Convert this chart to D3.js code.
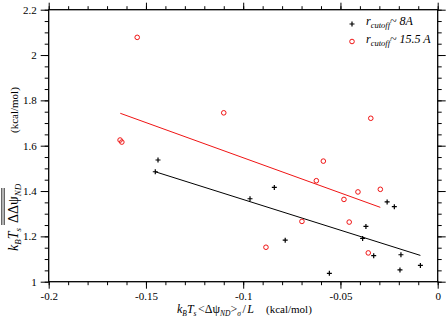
<!DOCTYPE html>
<html>
<head>
<meta charset="utf-8">
<script src="https://cdn.jsdelivr.net/npm/d3@7"></script>
<style>
body { margin: 0; background: #fff; }
svg { display: block; font-family: "Liberation Serif", "Times New Roman", serif; }
</style>
</head>
<body>
<svg width="447" height="318"></svg>
<script>
// r_cutoff ~ 8A  (black crosses)
var blackX = [-0.1452, -0.1438, -0.0965, -0.084, -0.0784, -0.0557, -0.0369, -0.0386, -0.026, -0.0223, -0.0329, -0.0189, -0.0194, -0.0089];
var blackY = [1.485, 1.537, 1.366, 1.416, 1.183, 1.037, 1.244, 1.191, 1.352, 1.331, 1.115, 1.119, 1.052, 1.072];
// r_cutoff ~ 15.5 A  (red circles)
var redX = [-0.1633, -0.1624, -0.1545, -0.110, -0.0344, -0.0588, -0.0624, -0.041, -0.0295, -0.0482, -0.0698, -0.0455, -0.0883, -0.0357];
var redY = [1.625, 1.616, 2.078, 1.745, 1.721, 1.532, 1.4455, 1.396, 1.4076, 1.363, 1.266, 1.263, 1.152, 1.127];
// fit lines, end points
var fitBlackX = [-0.1452, -0.0089], fitBlackY = [1.485, 1.116];
var fitRedX = [-0.1632, -0.0295], fitRedY = [1.743, 1.328];
// ticks
var xMajor = [-0.2, -0.15, -0.1, -0.05, 0];
var xLabels = ["-0.2", "-0.15", "-0.1", "-0.05", "0"];
var yMajor = [1, 1.2, 1.4, 1.6, 1.8, 2, 2.2];
var yLabels = ["1", "1.2", "1.4", "1.6", "1.8", "2", "2.2"];

var padL = 48.7, padR = 437.7, padT = 9.7, padB = 281.7;
var svg = d3.select("svg");
var x = d3.scaleLinear().domain([-0.2, 0]).range([padL, padR]);
var y = d3.scaleLinear().domain([1, 2.2]).range([padB, padT]);

var xMinor = d3.range(-20, 1).map(function(i) { return i / 100; });
var yMinor = d3.range(20, 45, 1).map(function(i) { return i * 0.05; });

function styleAxis(g) {
  g.select(".domain").remove();
  g.attr("font-family", null);
  g.selectAll("line").attr("stroke", "#000").attr("stroke-width", 1);
  g.selectAll("text").attr("font-size", 11).attr("fill", "#000");
}

// minor ticks, all sides
svg.append("g").attr("transform", "translate(0," + padB + ")")
  .call(d3.axisBottom(x).tickValues(xMinor).tickSize(3.5).tickFormat("")).call(styleAxis);
svg.append("g").attr("transform", "translate(0," + padT + ")")
  .call(d3.axisTop(x).tickValues(xMinor).tickSize(3.5).tickFormat("")).call(styleAxis);
svg.append("g").attr("transform", "translate(" + padL + ",0)")
  .call(d3.axisLeft(y).tickValues(yMinor).tickSize(4).tickFormat("")).call(styleAxis);
svg.append("g").attr("transform", "translate(" + padR + ",0)")
  .call(d3.axisRight(y).tickValues(yMinor).tickSize(4).tickFormat("")).call(styleAxis);

// major ticks
svg.append("g").attr("transform", "translate(0," + padB + ")")
  .call(d3.axisBottom(x).tickValues(xMajor).tickSize(7).tickPadding(4)
    .tickFormat(function(d, i) { return xLabels[i]; })).call(styleAxis);
svg.append("g").attr("transform", "translate(0," + padT + ")")
  .call(d3.axisTop(x).tickValues(xMajor).tickSize(7).tickFormat("")).call(styleAxis);
svg.append("g").attr("transform", "translate(" + padL + ",0)")
  .call(d3.axisLeft(y).tickValues(yMajor).tickSize(8).tickPadding(4)
    .tickFormat(function(d, i) { return yLabels[i]; })).call(styleAxis);
svg.append("g").attr("transform", "translate(" + padR + ",0)")
  .call(d3.axisRight(y).tickValues(yMajor).tickSize(8).tickFormat("")).call(styleAxis);

// frame
svg.append("rect").attr("x", padL).attr("y", padT)
  .attr("width", padR - padL).attr("height", padB - padT)
  .attr("fill", "none").attr("stroke", "#000").attr("stroke-width", 1.3);

// fit lines
svg.append("line")
  .attr("x1", x(fitRedX[0])).attr("y1", y(fitRedY[0]))
  .attr("x2", x(fitRedX[1])).attr("y2", y(fitRedY[1]))
  .attr("stroke", "#f01414").attr("stroke-width", 1);
svg.append("line")
  .attr("x1", x(fitBlackX[0])).attr("y1", y(fitBlackY[0]))
  .attr("x2", x(fitBlackX[1])).attr("y2", y(fitBlackY[1]))
  .attr("stroke", "#000").attr("stroke-width", 1);

// red circles
svg.append("g").selectAll("circle").data(redX).enter().append("circle")
  .attr("cx", function(d) { return x(d); })
  .attr("cy", function(d, i) { return y(redY[i]); })
  .attr("r", 2.3).attr("fill", "none").attr("stroke", "#f01414").attr("stroke-width", 1);

// black crosses
var plusPath = "M-2.5,0H2.5M0,-2.5V2.5";
svg.append("g").selectAll("path").data(blackX).enter().append("path")
  .attr("d", plusPath)
  .attr("transform", function(d, i) { return "translate(" + x(d) + "," + y(blackY[i]) + ")"; })
  .attr("stroke", "#000").attr("stroke-width", 1.2).attr("fill", "none");

// legend
svg.append("path").attr("d", plusPath)
  .attr("transform", "translate(352,24)").attr("stroke", "#000").attr("stroke-width", 1.2);
svg.append("circle").attr("cx", 352).attr("cy", 41.5).attr("r", 2.3)
  .attr("fill", "none").attr("stroke", "#f01414").attr("stroke-width", 1);

function legendText(yy, rest) {
  var t = svg.append("text").attr("x", 366).attr("y", yy)
    .attr("font-size", 12).attr("font-style", "italic");
  t.append("tspan").text("r");
  t.append("tspan").attr("dy", 3).attr("font-size", 8.5).text("cutoff");
  t.append("tspan").attr("dy", -3).text(rest);
}
legendText(25, "~  8A");
legendText(42.5, "~ 15.5 A");

// x label
var xl = svg.append("text").attr("x", 177).attr("y", 312.5).attr("font-size", 12);
xl.append("tspan").attr("font-style", "italic").text("k");
xl.append("tspan").attr("font-style", "italic").attr("font-size", 7.5).attr("dy", 3).text("B");
xl.append("tspan").attr("font-style", "italic").attr("dy", -3).text("T");
xl.append("tspan").attr("font-style", "italic").attr("font-size", 7.5).attr("dy", 3).text("s");
xl.append("tspan").attr("dy", -3).attr("dx", 1.5).text("<Δψ");
xl.append("tspan").attr("font-style", "italic").attr("font-size", 7.5).attr("dy", 3).text("ND");
xl.append("tspan").attr("dy", -3).text(">");
xl.append("tspan").attr("font-style", "italic").attr("font-size", 7.5).attr("dy", 3).text("σ");
xl.append("tspan").attr("dy", -3).attr("dx", 1.5).text("/");
xl.append("tspan").attr("font-style", "italic").attr("dx", 1.5).text("L");
svg.append("text").attr("x", 266).attr("y", 312.5).attr("font-size", 11).text("(kcal/mol)");

// y label (rotated)
var yg = svg.append("g").attr("transform", "translate(18,0) rotate(-90)");
var yl = yg.append("text").attr("x", -251).attr("y", 0).attr("font-size", 14);
yl.append("tspan").attr("font-style", "italic").text("k");
yl.append("tspan").attr("font-style", "italic").attr("font-size", 9).attr("dy", 3).text("B");
yl.append("tspan").attr("font-style", "italic").attr("dy", -3).text("T");
yl.append("tspan").attr("font-style", "italic").attr("font-size", 9).attr("dy", 3).text("s");
yl.append("tspan").attr("dy", -3).attr("dx", 5).text("ΔΔψ");
yl.append("tspan").attr("font-style", "italic").attr("font-size", 9).attr("dy", 3).text("ND");
yg.append("text").attr("x", -133).attr("y", 0).attr("font-size", 11).text("(kcal/mol)");

// triple overline above the ΔΔψ term
[-16.5, -15, -13.5].forEach(function(o) {
  yg.append("line").attr("x1", -225).attr("x2", -188)
    .attr("y1", o).attr("y2", o).attr("stroke", "#000").attr("stroke-width", 0.6);
});
</script>
</body>
</html>
